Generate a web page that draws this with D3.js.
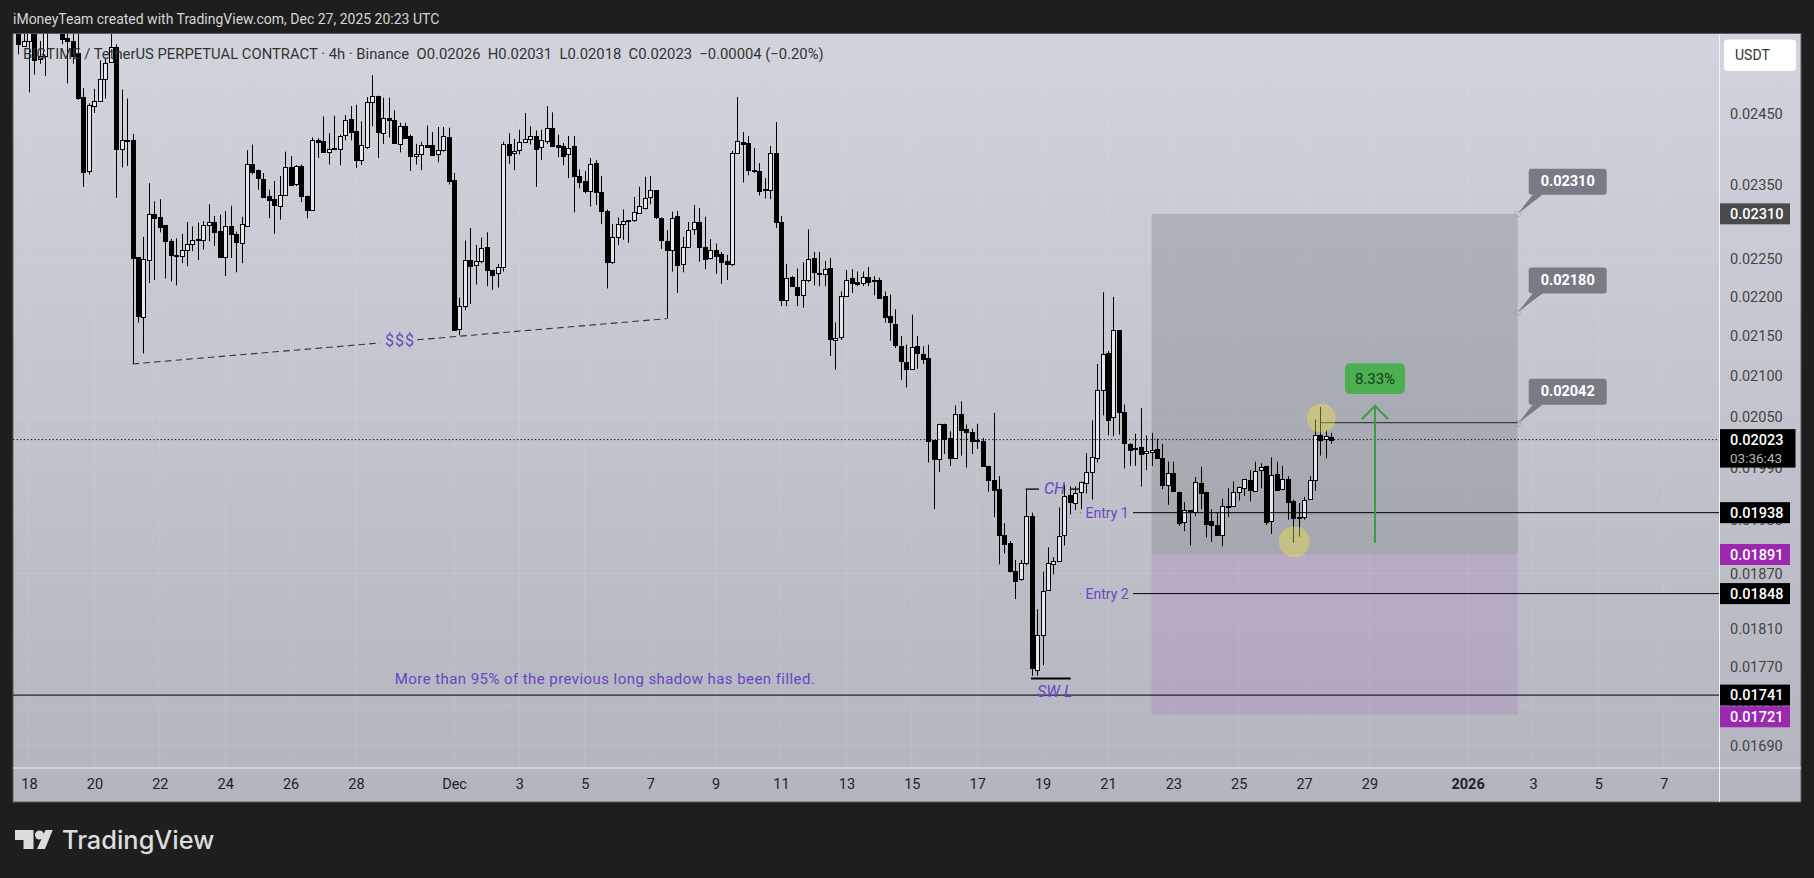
<!DOCTYPE html>
<html>
<head>
<meta charset="utf-8">
<script src="https://cdn.jsdelivr.net/npm/d3@7"></script>
<style>
  html, body { margin: 0; padding: 0; background: #1e1e1e; overflow: hidden; }
  svg { display: block; }
  text { font-family: Roboto, "Open Sans", sans-serif; }
</style>
</head>
<body>
<div id="chart"></div>
<script>
// Candle values are in units of 0.00001, one bar every 4 hours from the first date
const firstBar = "2025-11-17T16:00:00Z";
const priceUnit = 0.00001;

const opens = [
  2590,2550,2557,2590,2530,2535,2625,2650,2590,2561,
  2557,2539,2474,2369,2462,2469,2501,2525,2548,2400,
  2413,2413,2252,2175,2248,2310,2306,2295,2273,2255,
  2254,2262,2270,2276,2275,2295,2299,2287,2252,2293,
  2283,2271,2294,2379,2370,2358,2334,2330,2321,2336,
  2375,2351,2376,2335,2316,2413,2411,2396,2401,2400,
  2420,2442,2425,2384,2403,2467,2475,2423,2444,2441,
  2407,2433,2418,2390,2393,2406,2406,2392,2398,2417,
  2357,2158,2188,2248,2242,2247,2266,2235,2231,2239,
  2407,2394,2398,2410,2414,2418,2402,2412,2430,2406,
  2404,2393,2404,2362,2355,2341,2380,2340,2314,2246,
  2279,2296,2300,2301,2312,2319,2332,2342,2305,2274,
  2262,2307,2243,2265,2290,2299,2266,2252,2262,2256,
  2247,2243,2394,2410,2408,2370,2369,2342,2343,2394,
  2299,2196,2226,2213,2202,2222,2251,2231,2229,2238,
  2146,2148,2201,2225,2219,2218,2226,2222,2222,2201,
  2175,2165,2138,2117,2109,2137,2128,2122,2022,2000,
  2042,2025,2001,2054,2036,2032,2022,2021,1992,1976,
  1965,1913,1904,1873,1863,1881,1934,1767,1804,1851,
  1881,1884,1913,1958,1950,1961,1972,1985,2001,2083,
  2129,2049,2157,2056,2018,2013,2014,2007,2009,2012,
  2001,1970,1984,1962,1927,1941,1939,1972,1962,1928,
  1924,1913,1946,1946,1962,1967,1976,1963,1988,1992,
  1928,1983,1965,1977,1951,1933,1933,1953,1975,2029,
  2023,2026
];
const highs = [
  2610,2575,2600,2610,2557,2620,2670,2670,2610,2590,
  2590,2590,2487,2465,2486,2528,2532,2580,2552,2485,
  2472,2421,2252,2279,2352,2327,2330,2295,2276,2277,
  2283,2299,2293,2298,2300,2323,2307,2309,2314,2321,
  2286,2306,2398,2406,2371,2366,2343,2355,2362,2396,
  2390,2377,2378,2335,2416,2415,2446,2422,2447,2420,
  2448,2461,2463,2439,2474,2506,2476,2473,2473,2455,
  2437,2437,2420,2407,2410,2433,2424,2431,2431,2430,
  2366,2199,2274,2291,2268,2278,2285,2235,2243,2410,
  2422,2414,2427,2451,2432,2426,2427,2461,2452,2420,
  2408,2418,2418,2371,2369,2387,2384,2362,2316,2296,
  2305,2316,2301,2333,2347,2361,2362,2342,2305,2288,
  2313,2314,2279,2299,2322,2318,2306,2276,2270,2259,
  2255,2397,2474,2424,2418,2401,2380,2359,2404,2438,
  2307,2243,2227,2237,2245,2289,2259,2259,2247,2251,
  2167,2207,2235,2236,2233,2233,2239,2227,2225,2207,
  2203,2184,2150,2139,2177,2150,2137,2139,2022,2042,
  2042,2033,2064,2069,2041,2036,2042,2025,1992,2055,
  1980,1926,1906,1885,1885,1965,1938,1831,1872,1899,
  1888,1944,1970,1968,1968,1974,2007,2046,2115,2206,
  2131,2200,2157,2065,2019,2030,2061,2028,2031,2024,
  2018,1997,1997,1962,1950,1941,1979,1991,1962,1942,
  1938,1954,1966,1974,1968,1977,1987,1997,1995,1992,
  2002,1997,1992,1980,1953,1949,1956,1980,2047,2062,
  2034,2031
];
const lows = [
  2537,2549,2481,2507,2523,2505,2600,2610,2552,2494,
  2523,2470,2347,2364,2451,2468,2472,2525,2332,2374,
  2376,2115,2167,2128,2218,2222,2285,2224,2220,2215,
  2244,2240,2260,2248,2262,2273,2267,2251,2227,2251,
  2232,2244,2294,2364,2343,2333,2304,2283,2302,2336,
  2348,2348,2326,2304,2316,2387,2396,2378,2399,2377,
  2412,2412,2373,2377,2400,2432,2387,2407,2416,2407,
  2395,2415,2369,2378,2370,2402,2392,2381,2396,2350,
  2157,2151,2183,2191,2216,2244,2214,2209,2212,2233,
  2379,2370,2392,2408,2406,2347,2384,2407,2405,2388,
  2377,2359,2312,2345,2338,2320,2322,2296,2211,2243,
  2268,2275,2271,2299,2312,2316,2323,2303,2263,2172,
  2233,2205,2232,2265,2282,2246,2236,2249,2230,2217,
  2222,2240,2394,2353,2363,2366,2335,2331,2330,2291,
  2188,2188,2214,2188,2186,2219,2215,2214,2214,2125,
  2108,2145,2201,2205,2214,2214,2214,2202,2199,2167,
  2144,2135,2095,2086,2109,2109,2115,1996,1942,1985,
  2006,1992,2001,2004,1990,2006,2012,1991,1962,1933,
  1880,1892,1871,1842,1862,1879,1761,1761,1772,1851,
  1869,1884,1901,1936,1941,1942,1960,1953,1996,2052,
  2028,2027,2029,1989,1992,1992,1968,1987,1992,2001,
  1965,1947,1963,1923,1917,1901,1934,1942,1910,1905,
  1913,1900,1933,1946,1952,1957,1951,1963,1966,1924,
  1914,1964,1965,1930,1904,1911,1930,1953,1963,2004,
  2001,2018
];
const closes = [
  2552,2557,2580,2528,2535,2600,2650,2640,2559,2556,
  2535,2473,2368,2462,2469,2501,2524,2548,2400,2413,
  2412,2252,2175,2250,2310,2304,2293,2274,2255,2254,
  2262,2270,2275,2276,2295,2299,2286,2252,2293,2282,
  2272,2296,2379,2368,2359,2333,2329,2322,2336,2375,
  2350,2376,2335,2316,2413,2410,2396,2400,2400,2418,
  2441,2423,2384,2405,2467,2475,2423,2444,2441,2408,
  2433,2416,2390,2393,2406,2403,2392,2398,2418,2356,
  2158,2188,2248,2240,2247,2264,2235,2229,2239,2407,
  2392,2397,2410,2414,2418,2400,2412,2430,2405,2403,
  2390,2401,2362,2353,2341,2379,2340,2314,2246,2279,
  2296,2300,2301,2312,2321,2332,2342,2305,2275,2262,
  2305,2241,2266,2288,2299,2266,2250,2262,2254,2246,
  2243,2394,2411,2407,2370,2370,2341,2344,2394,2299,
  2196,2225,2214,2202,2222,2249,2232,2231,2236,2146,
  2148,2201,2222,2219,2216,2226,2220,2222,2199,2174,
  2167,2139,2119,2108,2136,2128,2122,2021,2000,2042,
  2024,2001,2054,2035,2033,2021,2022,1991,1976,1965,
  1913,1903,1873,1862,1881,1934,1769,1804,1851,1881,
  1884,1912,1957,1950,1961,1973,1985,2002,2083,2128,
  2047,2157,2056,2019,2011,2013,2006,2009,2011,2001,
  1970,1984,1963,1927,1941,1941,1973,1960,1926,1923,
  1913,1946,1946,1962,1968,1977,1964,1986,1991,1927,
  1981,1964,1977,1950,1932,1933,1952,1975,2028,2023,
  2027,2023
];

const priceTicks = [0.0245, 0.0235, 0.0225, 0.022, 0.0215, 0.021, 0.0205, 0.0199, 0.0193, 0.0187, 0.0181, 0.0177, 0.0173, 0.0169];
const dateTicks = ["2025-11-18","2025-11-20","2025-11-22","2025-11-24","2025-11-26","2025-11-28","2025-12-01","2025-12-03","2025-12-05","2025-12-07","2025-12-09","2025-12-11","2025-12-13","2025-12-15","2025-12-17","2025-12-19","2025-12-21","2025-12-23","2025-12-25","2025-12-27","2025-12-29","2026-01-01","2026-01-03","2026-01-05","2026-01-07"];
const dateLabels = ["18","20","22","24","26","28","Dec","3","5","7","9","11","13","15","17","19","21","23","25","27","29","2026","3","5","7"];

const lastPrice = 0.02023;
const countdown = "03:36:43";
const blackLevels = [0.01938, 0.01848, 0.01741];
const stopLevels = [0.01891, 0.01721];
const targetLevels = [0.0231, 0.0218, 0.02042];

const width = 1814, height = 878;
const plot = {left: 13, right: 1719.5, top: 34, bottom: 768, outerRight: 1801, outerBottom: 802};
const purple = "#6a45c4";

const parseDay = d => new Date(d + "T00:00:00Z");
const hour = 3600 * 1000;
const barDates = opens.map((d, i) => new Date(+new Date(firstBar) + i * 4 * hour));

const x = d3.scaleUtc()
    .domain([parseDay("2025-11-18"), parseDay("2026-01-03")])
    .range([29, 1533]);
const y = d3.scaleLog()
    .domain([0.0245, 0.0169])
    .range([113.7, 745.7]);

const barX = i => x(barDates[i]);
const unitY = v => y(v * priceUnit);
// candles snap to the pixel grid so their edges stay sharp
const snap = v => Math.round(v) + 0.5;

const svg = d3.select("#chart").append("svg")
    .attr("width", width)
    .attr("height", height);

const defs = svg.append("defs");
const grad = defs.append("linearGradient")
    .attr("id", "bg").attr("x1", 0).attr("x2", 0).attr("y1", 0).attr("y2", 1);
grad.append("stop").attr("offset", "0%").attr("stop-color", "#d1d4dc");
grad.append("stop").attr("offset", "100%").attr("stop-color", "#b2b5be");
defs.append("clipPath").attr("id", "plotClip").append("rect")
    .attr("x", plot.left).attr("y", plot.top)
    .attr("width", plot.right - plot.left).attr("height", plot.bottom - plot.top);

// Header above the chart
svg.append("text")
    .attr("x", 13).attr("y", 24)
    .attr("fill", "#d6d6d6")
    .style("font-size", "14px")
    .text("iMoneyTeam created with TradingView.com, Dec 27, 2025 20:23 UTC");

// Chart background and frame
svg.append("rect")
    .attr("x", plot.left).attr("y", plot.top - 0.5)
    .attr("width", plot.outerRight - plot.left).attr("height", plot.outerBottom - plot.top + 0.5)
    .attr("fill", "url(#bg)")
    .attr("stroke", "#5c5c60");

// Grid lines
svg.append("g").selectAll("line")
    .data(priceTicks)
    .enter().append("line")
    .attr("x1", plot.left).attr("x2", plot.right)
    .attr("y1", d => y(d)).attr("y2", d => y(d))
    .attr("stroke", "#fff").attr("stroke-opacity", 0.1);
svg.append("g").selectAll("line")
    .data(dateTicks)
    .enter().append("line")
    .attr("x1", d => x(parseDay(d))).attr("x2", d => x(parseDay(d)))
    .attr("y1", plot.top).attr("y2", plot.bottom)
    .attr("stroke", "#fff").attr("stroke-opacity", 0.1);

const chart = svg.append("g").attr("clip-path", "url(#plotClip)");

// Long position box, target zone over stop zone
const boxLeft = barX(208);
const boxRight = 1517.7;
chart.append("rect")
    .attr("x", boxLeft).attr("y", y(targetLevels[0]))
    .attr("width", boxRight - boxLeft).attr("height", y(stopLevels[0]) - y(targetLevels[0]))
    .attr("fill", "#777a7e").attr("fill-opacity", 0.33);
chart.append("rect")
    .attr("x", boxLeft).attr("y", y(stopLevels[0]))
    .attr("width", boxRight - boxLeft).attr("height", y(stopLevels[1]) - y(stopLevels[0]))
    .attr("fill", "#9c27b0").attr("fill-opacity", 0.12);

// Candles
const bars = chart.append("g").selectAll("g")
    .data(opens.map((d, i) => i))
    .enter().append("g");
bars.append("line")
    .attr("x1", i => snap(barX(i))).attr("x2", i => snap(barX(i)))
    .attr("y1", i => unitY(highs[i])).attr("y2", i => unitY(lows[i]))
    .attr("stroke", "#000").attr("stroke-width", 1);
bars.append("rect")
    .attr("x", i => snap(barX(i)) - 2)
    .attr("width", 4)
    .attr("y", i => snap(unitY(Math.max(opens[i], closes[i]))))
    .attr("height", i => Math.max(1, Math.round(Math.abs(unitY(opens[i]) - unitY(closes[i])))))
    .attr("fill", i => closes[i] >= opens[i] ? "#e4e6ec" : "#000")
    .attr("stroke", "#000").attr("stroke-width", 1);

// Last price dotted line
chart.append("line")
    .attr("x1", plot.left).attr("x2", plot.right)
    .attr("y1", y(lastPrice)).attr("y2", y(lastPrice))
    .attr("stroke", "#000").attr("stroke-dasharray", "1.2,2.4");

// Horizontal levels
chart.append("line")
    .attr("x1", 1133).attr("x2", plot.right)
    .attr("y1", y(blackLevels[0])).attr("y2", y(blackLevels[0]))
    .attr("stroke", "#000");
chart.append("line")
    .attr("x1", 1133).attr("x2", plot.right)
    .attr("y1", y(blackLevels[1])).attr("y2", y(blackLevels[1]))
    .attr("stroke", "#000");
chart.append("line")
    .attr("x1", plot.left).attr("x2", plot.right)
    .attr("y1", y(blackLevels[2])).attr("y2", y(blackLevels[2]))
    .attr("stroke", "#000");
chart.append("line")
    .attr("x1", barX(239)).attr("x2", boxRight)
    .attr("y1", y(targetLevels[2]) - 1).attr("y2", y(targetLevels[2]) - 1)
    .attr("stroke", "#222");

// Dashed liquidity line between the two lows, broken around the $$$ label
const dashFrom = [barX(21), unitY(lows[21])];
const dashTo = [barX(119), unitY(lows[119])];
const dashAt = t => [
    dashFrom[0] + (dashTo[0] - dashFrom[0]) * t,
    dashFrom[1] + (dashTo[1] - dashFrom[1]) * t
];
[[0, 0.464], [0.533, 1]].forEach(seg => {
    const a = dashAt(seg[0]), b = dashAt(seg[1]);
    chart.append("line")
        .attr("x1", a[0]).attr("y1", a[1]).attr("x2", b[0]).attr("y2", b[1])
        .attr("stroke", "#333").attr("stroke-width", 1.1)
        .attr("stroke-dasharray", "6.5,4.3");
});
chart.append("text")
    .attr("x", 400).attr("y", 346).attr("text-anchor", "middle")
    .attr("fill", purple)
    .style("font-size", "16px")
    .style("letter-spacing", "1px")
    .text("$$$");

// CH marker
const chY = unitY(highs[185]);
[[1025.7, 1039], [1070, 1079]].forEach(s => {
    chart.append("line")
        .attr("x1", s[0]).attr("x2", s[1]).attr("y1", chY).attr("y2", chY)
        .attr("stroke", "#222").attr("stroke-width", 1.6);
});
chart.append("text")
    .attr("x", 1044).attr("y", 494)
    .attr("fill", purple)
    .style("font-size", "16px").style("font-style", "italic")
    .text("CH");

// SW L marker
chart.append("line")
    .attr("x1", 1031).attr("x2", 1070.7)
    .attr("y1", unitY(1758)).attr("y2", unitY(1758))
    .attr("stroke", "#000").attr("stroke-width", 2);
chart.append("text")
    .attr("x", 1037).attr("y", 696.5)
    .attr("fill", purple)
    .style("font-size", "16px").style("font-style", "italic")
    .text("SW L");

// Entry labels
[["Entry 1", blackLevels[0]], ["Entry 2", blackLevels[1]]].forEach(e => {
    chart.append("text")
        .attr("x", 1085.5).attr("y", y(e[1]) + 5)
        .attr("fill", purple)
        .style("font-size", "14px")
        .text(e[0]);
    chart.append("circle")
        .attr("cx", 1080.3).attr("cy", y(e[1])).attr("r", 0.6)
        .attr("fill", "#555");
});

chart.append("text")
    .attr("x", 605).attr("y", 684).attr("text-anchor", "middle")
    .attr("fill", purple)
    .style("font-size", "15px")
    .style("letter-spacing", "0.43px")
    .text("More than 95% of the previous long shadow has been filled.");

// Yellow circles on the swing points
[[1321.3, 418.3, 14.5], [1294.3, 541.7, 15.5]].forEach(c => {
    chart.append("circle")
        .attr("cx", c[0]).attr("cy", c[1]).attr("r", c[2])
        .attr("fill", "#fdeb3b").attr("fill-opacity", 0.36);
});

// Green arrow and percent label
const arrowX = 1375;
chart.append("path")
    .attr("d", `M${arrowX},542.7V406M${arrowX - 13},419L${arrowX},406L${arrowX + 13},419`)
    .attr("fill", "none").attr("stroke", "#3c9b46").attr("stroke-width", 2);
chart.append("rect")
    .attr("x", 1345).attr("y", 363.3).attr("width", 60).attr("height", 30.7).attr("rx", 5)
    .attr("fill", "#4caf50");
chart.append("text")
    .attr("x", 1375).attr("y", 384).attr("text-anchor", "middle")
    .attr("fill", "#143c18")
    .style("font-size", "15px")
    .text("8.33%");

// Price callouts on the right of the box
targetLevels.forEach((p, i) => {
    const ay = y(p);
    const top = ay - 45;
    svg.append("path")
        .attr("d", `M${boxRight},${ay}L1543,${top + 25.5}L1533,${top + 25.5}Z`)
        .attr("fill", "#787b86");
    svg.append("rect")
        .attr("x", 1528.7).attr("y", top).attr("width", 78).attr("height", 26).attr("rx", 3)
        .attr("fill", "#787b86");
    svg.append("text")
        .attr("x", 1567.7).attr("y", top + 17.5).attr("text-anchor", "middle")
        .attr("fill", "#fff")
        .style("font-size", "14.5px").style("font-weight", 700)
        .text(d3.format(".5f")(p));
    svg.append("circle")
        .attr("cx", boxRight).attr("cy", ay).attr("r", 3)
        .attr("fill", "none").attr("stroke", "#787b86").attr("stroke-opacity", 0.3);
});

// Axis lines
svg.append("line")
    .attr("x1", plot.right).attr("x2", plot.right)
    .attr("y1", plot.top).attr("y2", plot.outerBottom)
    .attr("stroke", "#f0f1f4");
svg.append("line")
    .attr("x1", plot.left).attr("x2", plot.outerRight)
    .attr("y1", plot.bottom).attr("y2", plot.bottom)
    .attr("stroke", "#f0f1f4");

// Price axis
const yAxis = svg.append("g")
    .attr("transform", "translate(1730,0)")
    .call(d3.axisRight(y).tickValues(priceTicks).tickFormat(d3.format(".5f")).tickSize(0).tickPadding(0));
yAxis.select(".domain").remove();
yAxis.selectAll("text")
    .attr("fill", "#444")
    .style("font-size", "14.5px");

// Time axis
const xAxis = svg.append("g")
    .attr("transform", `translate(0,${plot.bottom})`)
    .call(d3.axisBottom(x)
        .tickValues(dateTicks.map(parseDay))
        .tickFormat((d, i) => dateLabels[i])
        .tickSize(0).tickPadding(11));
xAxis.select(".domain").remove();
xAxis.selectAll("text")
    .attr("fill", "#222")
    .style("font-size", "14.5px")
    .style("font-weight", (d, i) => dateLabels[i] === "2026" ? 700 : 400);

// Price badges on the axis, nudge keeps neighbours apart
function badge(price, color, label, nudge) {
    svg.append("rect")
        .attr("x", plot.right + 0.5).attr("y", y(price) - 10.5 + nudge)
        .attr("width", 70).attr("height", 21)
        .attr("fill", color);
    svg.append("text")
        .attr("x", 1730).attr("y", y(price) + 5.2 + nudge)
        .attr("fill", "#fff")
        .style("font-size", "14.5px").style("font-weight", 500)
        .text(label);
}
badge(targetLevels[0], "#4a4a4c", d3.format(".5f")(targetLevels[0]), 0);
blackLevels.forEach(p => badge(p, "#000", d3.format(".5f")(p), 0));
badge(stopLevels[0], "#9c27b0", d3.format(".5f")(stopLevels[0]), 0);
badge(stopLevels[1], "#9c27b0", d3.format(".5f")(stopLevels[1]), 2);

// Last price badge with countdown
svg.append("rect")
    .attr("x", plot.right + 0.5).attr("y", y(lastPrice) - 10.5)
    .attr("width", 75.5).attr("height", 38.5)
    .attr("fill", "#000");
svg.append("text")
    .attr("x", 1730).attr("y", y(lastPrice) + 5.2)
    .attr("fill", "#fff")
    .style("font-size", "14.5px").style("font-weight", 500)
    .text(d3.format(".5f")(lastPrice));
svg.append("text")
    .attr("x", 1730).attr("y", y(lastPrice) + 23)
    .attr("fill", "#b5b5b5")
    .style("font-size", "13.5px")
    .text(countdown);

// Currency button
svg.append("rect")
    .attr("x", 1724).attr("y", 39.5).attr("width", 72).attr("height", 31.5).attr("rx", 4)
    .attr("fill", "#fff");
svg.append("text")
    .attr("x", 1735).attr("y", 60)
    .attr("fill", "#333")
    .style("font-size", "14px")
    .text("USDT");

// Legend line over the candles
svg.append("text")
    .attr("x", 23).attr("y", 58.5)
    .attr("fill", "#333")
    .style("font-size", "14.8px")
    .style("white-space", "pre")
    .text("BIGTIME / TetherUS PERPETUAL CONTRACT · 4h · Binance  O0.02026  H0.02031  L0.02018  C0.02023  −0.00004 (−0.20%)");

// TradingView logo and word mark
svg.append("path")
    .attr("d", "M15,830H33.5V849H23.5V840H15ZM45.5,830H52.7L45,849H37Z")
    .attr("fill", "#dcdcdc");
svg.append("circle")
    .attr("cx", 39.5).attr("cy", 835).attr("r", 4.5)
    .attr("fill", "#dcdcdc");
svg.append("text")
    .attr("x", 62).attr("y", 849)
    .attr("fill", "#dcdcdc")
    .style("font-family", "Inter, Roboto, sans-serif")
    .style("font-size", "25.4px").style("font-weight", 500)
    .text("TradingView");
</script>
</body>
</html>
